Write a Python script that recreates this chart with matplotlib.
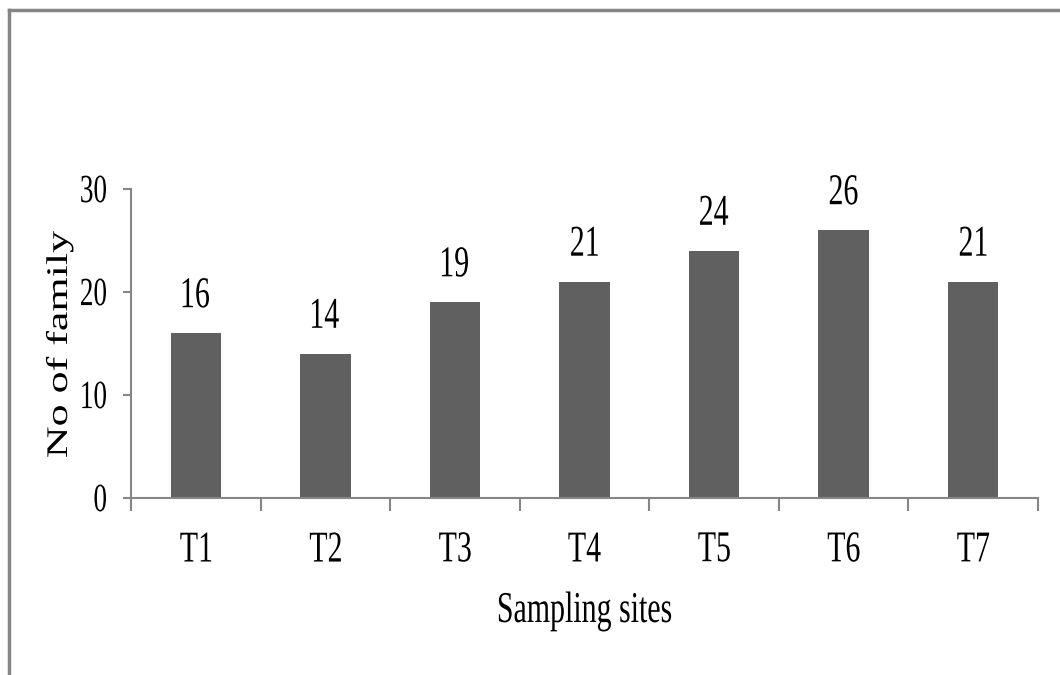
import matplotlib.pyplot as plt
from matplotlib.lines import Line2D
from matplotlib.patches import PathPatch
from matplotlib.textpath import TextPath
from matplotlib.font_manager import FontProperties
from matplotlib.transforms import Affine2D
import numpy as np

sites = ["T1", "T2", "T3", "T4", "T5", "T6", "T7"]
families = [16, 14, 19, 21, 24, 26, 21]
yticks = [0, 10, 20, 30]

W, H = 1060, 675
SERIF = FontProperties(family='Liberation Serif')
SQUEEZE = 0.68  # narrow, tall lettering


def squeezed_text(fig, x, y, s, size, ha='center', va='baseline', rotation=0):
    """Draw text as a path at display pixel (x, y), compressed horizontally."""
    path = TextPath((0, 0), s, size=size, prop=SERIF)
    ext = path.get_extents()
    dx = {'left': ext.x0, 'center': (ext.x0 + ext.x1) / 2, 'right': ext.x1}[ha]
    dy = {'baseline': 0, 'bottom': ext.y0, 'center': (ext.y0 + ext.y1) / 2, 'top': ext.y1}[va]
    tr = Affine2D().translate(-dx, -dy).rotate_deg(rotation).scale(SQUEEZE, 1).translate(x, y)
    fig.add_artist(PathPatch(path, transform=tr, facecolor='black', edgecolor='none', lw=0))


fig = plt.figure(figsize=(W / 100, H / 100), dpi=100)
ax = fig.add_axes([131 / W, 177 / H, 907 / W, 309 / H])

x = np.arange(len(sites))
ax.bar(x, families, width=0.39, color='#606060')

ax.set_xlim(-0.5, len(sites) - 0.5)
ax.set_ylim(0, 30)
ax.set_yticks(yticks)
ax.set_xticks(np.arange(len(sites) + 1) - 0.5)
ax.tick_params(axis='x', length=9, width=1.5, color='#868686', labelbottom=False)
ax.tick_params(axis='y', length=6, width=1.5, color='#868686', labelleft=False)

for side in ['top', 'right']:
    ax.spines[side].set_visible(False)
for side in ['left', 'bottom']:
    ax.spines[side].set_color('#868686')
    ax.spines[side].set_linewidth(1.5)

to_px = ax.transData.transform

# y tick labels
for v in yticks:
    _, py = to_px((0, v))
    squeezed_text(fig, 106, py, str(v), 40, ha='right', va='center')

# category labels and bar values
for xi, name, v in zip(x, sites, families):
    px, py0 = to_px((xi, 0))
    squeezed_text(fig, px, py0 - 49, name, 44, ha='center', va='center')
    _, ptop = to_px((xi, v))
    squeezed_text(fig, px, ptop + 26, str(v), 44, ha='center', va='baseline')

# axis titles
squeezed_text(fig, 585, H - 622, 'Sampling sites', 44, ha='center', va='baseline')
squeezed_text(fig, 67, H - 344, 'No of family', 44, ha='center', va='baseline', rotation=90)

# frame around the figure (top and left edges)
fig.add_artist(Line2D([8.5 / W, 1.0], [1 - 9.5 / H, 1 - 9.5 / H],
                      transform=fig.transFigure, color='#858585', lw=2.5))
fig.add_artist(Line2D([8.5 / W, 8.5 / W], [0, 1 - 9.5 / H],
                      transform=fig.transFigure, color='#858585', lw=2.5))

fig.savefig('out.png', dpi=100)
